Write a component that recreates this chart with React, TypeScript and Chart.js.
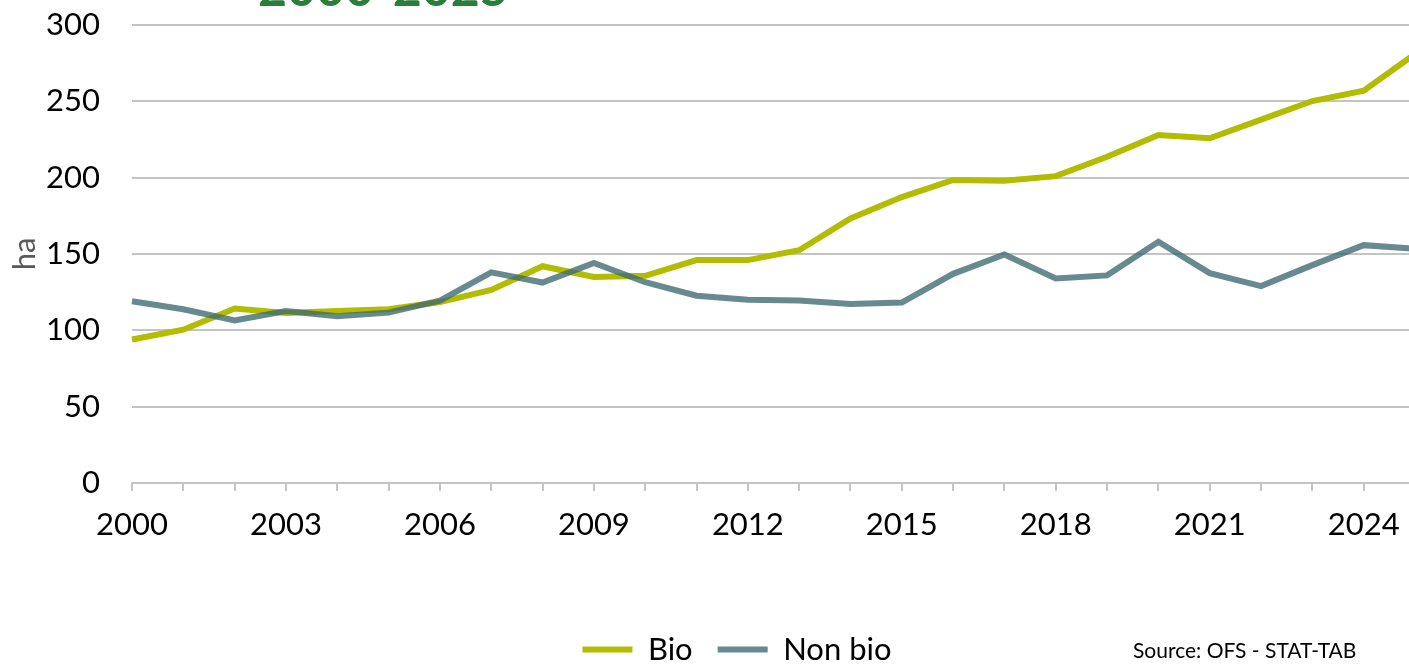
import React, { useEffect, useRef } from 'react';
import { Chart, registerables } from 'chart.js';

Chart.register(...registerables);

const years = [
  '2000', '2001', '2002', '2003', '2004', '2005', '2006', '2007', '2008', '2009',
  '2010', '2011', '2012', '2013', '2014', '2015', '2016', '2017', '2018', '2019',
  '2020', '2021', '2022', '2023', '2024', '2025',
];
const bioValues = [
  94, 100.4, 114.3, 111.4, 112.7, 113.8, 118.5, 126.5, 142, 135,
  135.7, 146, 146, 152.5, 173.3, 187.3, 198.5, 198, 201, 213.7,
  228, 225.8, 238, 250.2, 256.9, 281,
];
const nonBioValues = [
  119, 113.8, 106.5, 112.7, 109.2, 111.6, 119.5, 138, 131.3, 144.2,
  131.5, 122.7, 120, 119.5, 117.3, 118.2, 137, 149.7, 134, 136,
  158, 137.5, 129, 142.7, 155.8, 153.5,
];
const seriesNames = ['Bio', 'Non bio'];
const yMin = 0;
const yMax = 300;
const yStep = 50;
const xLabelEvery = 3;
const yTitle = 'ha';
const titleText = '2000-2025';
const sourceText = 'Source: OFS - STAT-TAB';

const FONT = 'Lato, "Open Sans", sans-serif';
const BIO_COLOR = '#b2bc00';
const NONBIO_COLOR = 'rgba(60,105,110,0.78)';
const GRID_COLOR = '#c4c4c4';

const extraTextPlugin = {
  id: 'extraText',
  afterDraw(chart: any) {
    const ctx = chart.ctx;
    ctx.save();
    ctx.fillStyle = '#2b7d3a';
    ctx.font = `bold 50px ${FONT}`;
    ctx.textAlign = 'left';
    ctx.textBaseline = 'alphabetic';
    ctx.fillText(titleText, 258, 6);
    ctx.fillStyle = '#000000';
    ctx.font = `21px ${FONT}`;
    ctx.textBaseline = 'middle';
    ctx.fillText(sourceText, 1133, 651);
    ctx.restore();
  },
};

export default function App() {
  const canvasRef = useRef<HTMLCanvasElement | null>(null);

  useEffect(() => {
    if (!canvasRef.current) return;
    const chart = new Chart(canvasRef.current, {
      type: 'line',
      data: {
        labels: years,
        datasets: [
          {
            label: seriesNames[0],
            data: bioValues,
            borderColor: BIO_COLOR,
            backgroundColor: BIO_COLOR,
            borderWidth: 6,
            pointRadius: 0,
            tension: 0,
            order: 1,
          },
          {
            label: seriesNames[1],
            data: nonBioValues,
            borderColor: NONBIO_COLOR,
            backgroundColor: NONBIO_COLOR,
            borderWidth: 6,
            pointRadius: 0,
            tension: 0,
            order: 0,
          },
        ],
      },
      options: {
        responsive: false,
        animation: false,
        devicePixelRatio: 1,
        layout: { padding: { top: 25, left: 0, right: 0, bottom: 0 } },
        plugins: {
          tooltip: { enabled: false },
          title: { display: false },
          legend: {
            display: true,
            position: 'bottom',
            maxHeight: 55,
            labels: {
              usePointStyle: true,
              pointStyle: 'line',
              pointStyleWidth: 50,
              padding: 25,
              color: '#000000',
              font: { family: FONT, size: 31 },
              sort: (a: any, b: any) => a.datasetIndex - b.datasetIndex,
            },
          },
        },
        scales: {
          x: {
            type: 'category',
            offset: false,
            grid: {
              display: true,
              drawOnChartArea: false,
              drawTicks: true,
              tickLength: 8,
              color: GRID_COLOR,
              lineWidth: 2,
            },
            border: { display: true, color: GRID_COLOR, width: 2 },
            ticks: {
              autoSkip: false,
              maxRotation: 0,
              minRotation: 0,
              padding: 15,
              color: '#000000',
              font: { family: FONT, size: 31 },
              callback: (_v: any, i: number) => (i % xLabelEvery === 0 ? years[i] : ''),
            },
            afterFit: (s: any) => {
              s.height = 126;
            },
          },
          y: {
            min: yMin,
            max: yMax,
            position: 'left',
            grid: {
              color: GRID_COLOR,
              lineWidth: 2,
              drawTicks: true,
              tickLength: 32,
              tickColor: 'rgba(0,0,0,0)',
            },
            border: { display: false },
            ticks: {
              stepSize: yStep,
              padding: 0,
              color: '#000000',
              font: { family: FONT, size: 31 },
            },
            title: {
              display: true,
              text: yTitle,
              color: '#595959',
              font: { family: FONT, size: 31 },
              padding: { top: 6, bottom: 0 },
            },
            afterFit: (s: any) => {
              s.width = 132;
            },
          },
          yRight: {
            position: 'right',
            display: true,
            grid: { display: false },
            border: { display: false },
            ticks: { display: false },
            afterFit: (s: any) => {
              s.width = 59;
            },
          },
        },
      },
      plugins: [extraTextPlugin],
    } as any);
    return () => chart.destroy();
  }, []);

  return (
    <div
      style={{
        position: 'fixed',
        left: 0,
        top: 0,
        width: 1409,
        height: 664,
        overflow: 'hidden',
        background: '#ffffff',
      }}
    >
      <canvas ref={canvasRef} width={1474} height={664} style={{ display: 'block' }} />
    </div>
  );
}
